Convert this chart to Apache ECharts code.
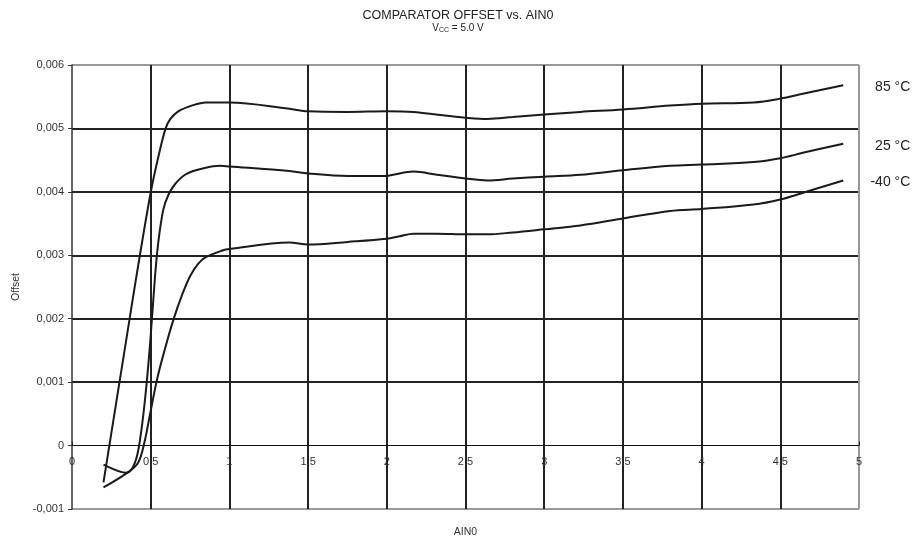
<!DOCTYPE html>
<html>
<head>
<meta charset="utf-8">
<script src="https://cdn.jsdelivr.net/npm/echarts@6/dist/echarts.min.js"></script>
<style>html,body{margin:0;padding:0;background:#fff}#c{width:916px;height:537px}</style>
</head>
<body>
<div id="c"></div>
<script>
const seriesNames = ['85 °C', '25 °C', '-40 °C'];

const x85 = [0.2, 0.35, 0.41, 0.5, 0.555, 0.595, 0.625, 0.675, 0.76, 0.85, 1.0, 1.38, 1.5, 1.75, 2.0, 2.17, 2.34, 2.5, 2.64, 2.8, 3.0, 3.23, 3.5, 3.8, 4.0, 4.33, 4.5, 4.65, 4.9];
const y85 = [-0.00058, 0.00175, 0.00268, 0.00399, 0.00462, 0.00500, 0.00515, 0.00527, 0.00536, 0.00541, 0.00541, 0.00531, 0.00527, 0.00526, 0.00527, 0.00526, 0.00521, 0.00517, 0.00515, 0.00518, 0.00522, 0.00526, 0.00530, 0.00536, 0.00539, 0.00541, 0.00547, 0.00555, 0.00568];

const x25 = [0.2, 0.35, 0.40, 0.432, 0.464, 0.496, 0.527, 0.548, 0.58, 0.612, 0.654, 0.718, 0.80, 0.94, 1.0, 1.38, 1.5, 1.75, 2.0, 2.04, 2.17, 2.32, 2.5, 2.64, 2.8, 3.0, 3.23, 3.5, 3.8, 4.0, 4.33, 4.5, 4.65, 4.9];
const y25 = [-0.00030, -0.00043, -0.00027, 0.00009, 0.00073, 0.00160, 0.00265, 0.00320, 0.00372, 0.00395, 0.00412, 0.00427, 0.00435, 0.00441, 0.00440, 0.00433, 0.00429, 0.00425, 0.00425, 0.00427, 0.00432, 0.00427, 0.00421, 0.00418, 0.00421, 0.00424, 0.00427, 0.00434, 0.00441, 0.00443, 0.00447, 0.00453, 0.00462, 0.00476];

const xm40 = [0.2, 0.35, 0.42, 0.46, 0.49, 0.54, 0.59, 0.645, 0.70, 0.75, 0.80, 0.85, 0.96, 1.0, 1.38, 1.5, 1.75, 2.0, 2.08, 2.17, 2.32, 2.5, 2.64, 2.8, 3.0, 3.23, 3.5, 3.8, 4.0, 4.33, 4.5, 4.65, 4.9];
const ym40 = [-0.00066, -0.00043, -0.00027, 0.00005, 0.00042, 0.00104, 0.00152, 0.00199, 0.00238, 0.00267, 0.00286, 0.00297, 0.00308, 0.00310, 0.00320, 0.00317, 0.00321, 0.00326, 0.00330, 0.00334, 0.00334, 0.00333, 0.00333, 0.00336, 0.00341, 0.00347, 0.00358, 0.00370, 0.00373, 0.00380, 0.00388, 0.00399, 0.00418];

const seriesX = [x85, x25, xm40];
const seriesY = [y85, y25, ym40];

const font = 'Liberation Sans, Arial, sans-serif';
const fmt = v => {
  const r = Math.round(v * 1000) / 1000;
  if (r === 0) return '0';
  return String(r).replace('.', ',');
};
const fmtX = v => String(Math.round(v * 10) / 10).replace('.', ',');

const chart = echarts.init(document.getElementById('c'), null, {renderer: 'canvas'});
chart.setOption({
  animation: false,
  backgroundColor: '#fff',
  title: {
    left: 'center',
    top: 9,
    padding: 0,
    itemGap: 0,
    text: 'COMPARATOR OFFSET vs. AIN0',
    textStyle: {fontFamily: font, fontSize: 12.5, fontWeight: 'normal', color: '#222'},
    subtext: '{v|V}{s|CC}{v| = 5.0 V}',
    subtextStyle: {
      fontFamily: font, color: '#222',
      rich: {
        v: {fontFamily: font, fontSize: 10, color: '#222', lineHeight: 12},
        s: {fontFamily: font, fontSize: 7, color: '#222', lineHeight: 12, padding: [4, 0, 0, 0]}
      }
    }
  },
  grid: {left: 72, right: 57, top: 65, bottom: 28, show: false, containLabel: false, outerBoundsMode: 'none'},
  xAxis: {
    type: 'value', min: 0, max: 5, interval: 0.5,
    name: 'AIN0', nameLocation: 'middle', nameGap: 18,
    nameTextStyle: {fontFamily: font, fontSize: 10.5, color: '#333'},
    axisLine: {onZero: true, lineStyle: {color: '#111', width: 1}},
    axisTick: {show: true, inside: true, length: 4, lineStyle: {color: '#222'}},
    axisLabel: {fontFamily: font, fontSize: 11, color: '#333', margin: -53, formatter: fmtX},
    splitLine: {show: true, lineStyle: {width: 2, color: ['rgba(0,0,0,0)', '#222', '#222', '#222', '#222', '#222', '#222', '#222', '#222', '#222', '#999']}}
  },
  yAxis: {
    type: 'value', min: -0.001, max: 0.006, interval: 0.001,
    name: 'Offset', nameLocation: 'middle', nameGap: 48,
    nameTextStyle: {fontFamily: font, fontSize: 10.5, color: '#333'},
    axisLine: {show: true, onZero: false, lineStyle: {color: '#333', width: 1.5}},
    axisTick: {show: true, inside: false, length: 4, lineStyle: {color: '#333'}},
    axisLabel: {fontFamily: font, fontSize: 11, color: '#333', margin: 8, formatter: fmt},
    splitLine: {show: true, lineStyle: {width: 2, color: ['#999', 'rgba(0,0,0,0)', '#222', '#222', '#222', '#222', '#222', '#999']}}
  },
  series: seriesNames.map((name, i) => ({
    name: name,
    type: 'line',
    data: seriesX[i].map((x, j) => [x, seriesY[i][j]]),
    showSymbol: false,
    smooth: 0.35,
    lineStyle: {color: '#1a1a1a', width: 2},
    itemStyle: {color: '#1a1a1a'},
    endLabel: {
      show: true, formatter: name, align: 'right', distance: 67, offset: [0, 2],
      fontFamily: font, fontSize: 14, color: '#222'
    },
    z: 3
  }))
});
</script>
</body>
</html>
